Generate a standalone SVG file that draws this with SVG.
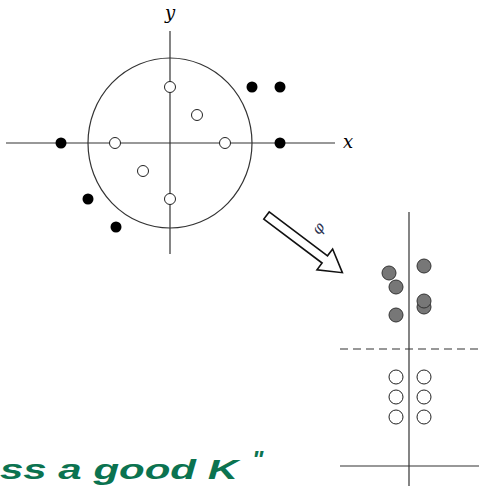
<svg xmlns="http://www.w3.org/2000/svg" width="479" height="486" viewBox="0 0 479 486">
<style>
.ax{stroke:#333;stroke-width:1.2;fill:none}
.open{fill:#fff;stroke:#222;stroke-width:1}
.dot{fill:#000}
.gray{fill:#777;stroke:#333;stroke-width:1}
.lbl{font-family:"DejaVu Serif","Liberation Serif",serif;font-style:italic;font-size:18px;fill:#000}
.hand{font-family:"Liberation Sans",sans-serif;font-weight:bold;font-style:italic;fill:#0b7350}
</style>
<rect width="479" height="486" fill="#fff"/>
<g id="left-plot">
  <line class="ax" x1="6" y1="143" x2="335" y2="143"/>
  <line class="ax" x1="170" y1="31" x2="170" y2="254"/>
  <ellipse class="ax" cx="170" cy="143" rx="82" ry="85"/>
  <text class="lbl" x="170" y="19" text-anchor="middle">y</text>
  <text class="lbl" x="348" y="148" text-anchor="middle">x</text>
  <circle class="open" cx="170" cy="87" r="5.5"/>
  <circle class="open" cx="197" cy="115" r="5.5"/>
  <circle class="open" cx="115" cy="143" r="5.5"/>
  <circle class="open" cx="225" cy="143" r="5.5"/>
  <circle class="open" cx="143" cy="171" r="5.5"/>
  <circle class="open" cx="170" cy="199" r="5.5"/>
  <circle class="dot" cx="252" cy="87" r="5.5"/>
  <circle class="dot" cx="280" cy="87" r="5.5"/>
  <circle class="dot" cx="61" cy="143" r="5.5"/>
  <circle class="dot" cx="280" cy="143" r="5.5"/>
  <circle class="dot" cx="88" cy="199" r="5.5"/>
  <circle class="dot" cx="116" cy="227" r="5.5"/>
</g>
<g id="connectors">
  <g transform="translate(266.5,215.5) rotate(37)">
    <polygon points="0,-4.5 73,-4.5 73,-13 95,0 73,13 73,4.5 0,4.5" fill="#fff" stroke="#111" stroke-width="1.6" stroke-linejoin="miter"/>
    <text x="49" y="-16" font-family="DejaVu Serif,serif" font-style="italic" font-size="15" fill="#2a3050" text-anchor="middle" transform="rotate(-90 49 -21)">φ</text>
  </g>
</g>
<g id="right-plot">
  <line class="ax" x1="409" y1="212" x2="409" y2="486"/>
  <line class="ax" x1="340" y1="466" x2="479" y2="466"/>
  <line class="ax" x1="340" y1="349" x2="479" y2="349" stroke-dasharray="8,5"/>
  <circle class="gray" cx="389" cy="273" r="7"/>
  <circle class="gray" cx="396" cy="287" r="7"/>
  <circle class="gray" cx="396" cy="315" r="7"/>
  <circle class="gray" cx="424" cy="266" r="7"/>
  <circle class="gray" cx="424" cy="307" r="7"/>
  <circle class="gray" cx="424" cy="301" r="7"/>
  <circle class="open" cx="396" cy="377" r="7"/>
  <circle class="open" cx="424" cy="377" r="7"/>
  <circle class="open" cx="396" cy="397" r="7"/>
  <circle class="open" cx="424" cy="397" r="7"/>
  <circle class="open" cx="396" cy="417" r="7"/>
  <circle class="open" cx="424" cy="417" r="7"/>
</g>
<g id="handwriting">
  <text class="hand" x="0" y="479" font-size="28" textLength="238" lengthAdjust="spacingAndGlyphs">ss a good K</text>
  <text class="hand" x="252" y="468" font-size="24">"</text>
</g>
</svg>
